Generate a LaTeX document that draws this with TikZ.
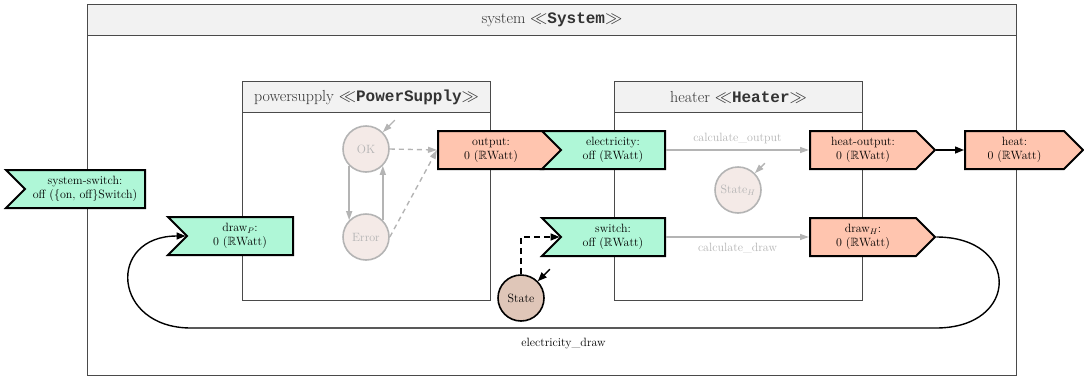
\documentclass[tikz,border=0pt]{standalone}
\usepackage{amssymb}
\usepackage{fontspec}
\setmonofont{Liberation Mono}
\usetikzlibrary{shapes.symbols, arrows.meta, positioning}

\definecolor{portin}{HTML}{AFF7D7}
\definecolor{portout}{HTML}{FFC5AF}
\definecolor{statebrown}{HTML}{DFC6B8}
\definecolor{ghostfill}{HTML}{F4EAE7}
\definecolor{ghostgray}{HTML}{B4B4B4}
\definecolor{bargray}{HTML}{F2F2F2}
\definecolor{framegray}{HTML}{4A4A4A}

\newcommand{\watt}[1]{#1 ($\mathbb{R}$Watt)}

\tikzset{
  port/.style={signal, draw=black, line width=2pt, minimum height=38pt, inner sep=0pt,
    align=center, font=\fontsize{12}{14}\selectfont},
  inport/.style={port, fill=portin, signal from=west, signal to=nowhere},
  outport/.style={port, fill=portout, signal to=east},
  blockframe/.style={draw=framegray, line width=1pt, inner sep=0pt},
  blocktitle/.style={blockframe, fill=bargray, text=black!80, font=\fontsize{16}{18}\selectfont},
  ghoststate/.style={circle, draw=ghostgray, line width=1.6pt, fill=ghostfill, text=ghostgray,
    minimum size=46pt, inner sep=0pt, font=\fontsize{12}{13}\selectfont},
  statenode/.style={circle, draw=black, line width=1.6pt, fill=statebrown,
    minimum size=46pt, inner sep=0pt, font=\fontsize{12}{13}\selectfont},
  flow/.style={draw=ghostgray, line width=1.4pt, -{Triangle[length=9pt,width=6pt]}},
  conn/.style={draw=black, line width=1.4pt, -{Triangle[length=9pt,width=7pt]}},
  flowtext/.style={font=\fontsize{12}{14}\selectfont},
}

\begin{document}
\begin{tikzpicture}[x=1pt, y=-1pt]
  \useasboundingbox (0,0) rectangle (1084,378);

  % Blocks
  \node[blockframe, minimum width=929, minimum height=371, anchor=north west] (sys) at (87,4) {};
  \node[blocktitle, minimum width=929, minimum height=31, anchor=north west] (systitle) at (87,4)
    {system $\ll$\texttt{\textbf{System}}$\gg$};
  \node[blockframe, minimum width=248, minimum height=219, anchor=north west] (ps) at (242,81) {};
  \node[blocktitle, minimum width=248, minimum height=31, anchor=north west] (pstitle) at (242,81)
    {powersupply $\ll$\texttt{\textbf{PowerSupply}}$\gg$};
  \node[blockframe, minimum width=248, minimum height=219, anchor=north west] (heater) at (614,81) {};
  \node[blocktitle, minimum width=248, minimum height=31, anchor=north west] (heatertitle) at (614,81)
    {heater $\ll$\texttt{\textbf{Heater}}$\gg$};

  % Ports
  \node[inport, minimum width=139, anchor=north east] (syswitch) at (146,169)
    {system-switch:\\off (\{on, off\}Switch)};
  \node[inport, minimum width=125, anchor=north east] (drawP) at (294,216) {draw$_P$:\\\watt{0}};
  \node[outport, minimum width=125, anchor=north west] (output) at (437,130) {output:\\\watt{0}};
  \node[inport, minimum width=123, anchor=north east] (elec) at (666,130) {electricity:\\\watt{off}};
  \node[inport, minimum width=123, anchor=north east] (switch) at (666,217) {switch:\\\watt{off}};
  \node[outport, minimum width=125, anchor=north west] (heatout) at (809,130) {heat-output:\\\watt{0}};
  \node[outport, minimum width=125, anchor=north west] (drawH) at (809,217) {draw$_H$:\\\watt{0}};
  \node[outport, minimum width=118, anchor=north west] (heat) at (964,130) {heat:\\\watt{0}};

  % States
  \node[ghoststate] (ok) at (366,149) {OK};
  \node[ghoststate] (error) at (366,237) {Error};
  \node[ghoststate] (stateH) at (738,190) {State$_H$};
  \node[statenode] (state) at (521,298) {State};

  \coordinate (okinit) at ([shift={(12,-12)}]ok.45);
  \coordinate (stateHinit) at ([shift={(10,-10)}]stateH.45);
  \coordinate (stateinit) at ([shift={(12,-12)}]state.45);
  \coordinate (loopR) at (936,328);
  \coordinate (loopL) at (191,328);

  % Power supply
  \draw[flow] (okinit) -- (ok.45);
  \draw[flow] (ok.-135) -- (error.135);
  \draw[flow] (error.45) -- (ok.-45);
  \draw[flow, dash pattern=on 5pt off 4pt] (ok.east) -- (output.west);
  \draw[flow, dash pattern=on 5pt off 4pt] (error.east) -- (output.west);

  % Heater
  \draw[flow] (stateHinit) -- (stateH.45);
  \draw[flow] (elec.east) -- node[above=2pt, flowtext, text=ghostgray] {calculate\_output} (heatout.west);
  \draw[flow] (switch.east) -- node[below=2pt, flowtext, text=ghostgray] {calculate\_draw} (drawH.west);

  % System
  \draw[conn] (heatout.east) -- (heat.west);
  \draw[conn, dash pattern=on 6pt off 4pt] (state.north) |- (switch.west);
  \draw[conn] (stateinit) -- (state.45);
  \draw[conn] (drawH.east) .. controls +(84,0) and +(84,0) .. (loopR)
    -- node[below=6pt, flowtext] {electricity\_draw} (loopL)
    .. controls +(-79,0) and +(-79,0) .. (drawP.west);
\end{tikzpicture}
\end{document}
